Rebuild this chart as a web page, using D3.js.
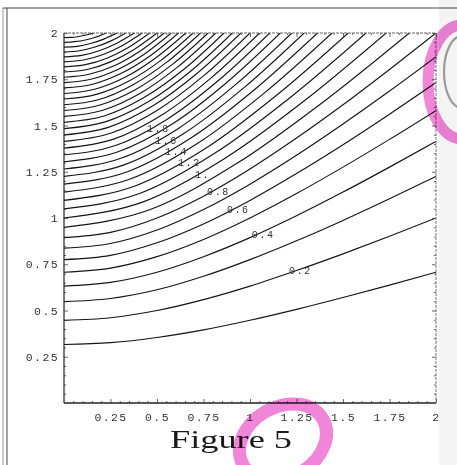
<!DOCTYPE html>
<html>
<head>
<meta charset="utf-8">
<script src="https://cdn.jsdelivr.net/npm/d3@7"></script>
<style>
  html, body { margin: 0; padding: 0; background: #fff; }
  svg { display: block; }
  .tick text { font-family: "Liberation Mono", "DejaVu Sans Mono", monospace; font-size: 11.5px; fill: #333; letter-spacing: 1.4px; }
  .clabel { font-family: "Liberation Mono", "DejaVu Sans Mono", monospace; font-size: 10px; fill: #333; letter-spacing: 1.6px; }
</style>
</head>
<body>
<div id="chart"></div>
<script>
// contour levels, 0.1 .. 3.9
const levels = [0.1, 0.2, 0.3, 0.4, 0.5, 0.6, 0.7, 0.8, 0.9, 1.0,
  1.1, 1.2, 1.3, 1.4, 1.5, 1.6, 1.7, 1.8, 1.9, 2.0,
  2.1, 2.2, 2.3, 2.4, 2.5, 2.6, 2.7, 2.8, 2.9, 3.0,
  3.1, 3.2, 3.3, 3.4, 3.5, 3.6, 3.7, 3.8, 3.9];

// points [x, y] (same order as levels)
const contourLines = [
  [[0, 0.316], [0.25, 0.326], [0.5, 0.354], [0.75, 0.395], [1, 0.447], [1.25, 0.506], [1.5, 0.570], [1.75, 0.637], [2, 0.707]],
  [[0, 0.447], [0.25, 0.461], [0.5, 0.500], [0.75, 0.559], [1, 0.632], [1.25, 0.716], [1.5, 0.806], [1.75, 0.901], [2, 1.000]],
  [[0, 0.548], [0.25, 0.565], [0.5, 0.612], [0.75, 0.685], [1, 0.775], [1.25, 0.877], [1.5, 0.987], [1.75, 1.104], [2, 1.225]],
  [[0, 0.632], [0.25, 0.652], [0.5, 0.707], [0.75, 0.791], [1, 0.894], [1.25, 1.012], [1.5, 1.140], [1.75, 1.275], [2, 1.414]],
  [[0, 0.707], [0.25, 0.729], [0.5, 0.791], [0.75, 0.884], [1, 1.000], [1.25, 1.132], [1.5, 1.275], [1.75, 1.425], [2, 1.581]],
  [[0, 0.775], [0.25, 0.798], [0.5, 0.866], [0.75, 0.968], [1, 1.095], [1.25, 1.240], [1.5, 1.396], [1.75, 1.561], [2, 1.732]],
  [[0, 0.837], [0.25, 0.862], [0.5, 0.935], [0.75, 1.046], [1, 1.183], [1.25, 1.339], [1.5, 1.508], [1.75, 1.686], [2, 1.871]],
  [[0, 0.894], [0.25, 0.922], [0.5, 1.000], [0.75, 1.118], [1, 1.265], [1.25, 1.432], [1.5, 1.612], [1.75, 1.803], [2, 2.000]],
  [[0, 0.949], [0.464, 1.046], [0.928, 1.294], [1.392, 1.626], [1.856, 2]],
  [[0, 1.000], [0.433, 1.090], [0.866, 1.323], [1.299, 1.639], [1.732, 2]],
  [[0, 1.049], [0.406, 1.132], [0.812, 1.351], [1.218, 1.653], [1.624, 2]],
  [[0, 1.095], [0.382, 1.173], [0.764, 1.378], [1.146, 1.666], [1.528, 2]],
  [[0, 1.140], [0.360, 1.212], [0.721, 1.405], [1.081, 1.679], [1.441, 2]],
  [[0, 1.183], [0.341, 1.250], [0.682, 1.432], [1.022, 1.692], [1.363, 2]],
  [[0, 1.225], [0.323, 1.287], [0.646, 1.458], [0.968, 1.705], [1.291, 2]],
  [[0, 1.265], [0.306, 1.323], [0.613, 1.483], [0.919, 1.718], [1.225, 2]],
  [[0, 1.304], [0.291, 1.358], [0.582, 1.508], [0.872, 1.730], [1.163, 2]],
  [[0, 1.342], [0.277, 1.392], [0.553, 1.533], [0.830, 1.743], [1.106, 2]],
  [[0, 1.378], [0.263, 1.425], [0.526, 1.557], [0.788, 1.755], [1.051, 2]],
  [[0, 1.414], [0.250, 1.458], [0.500, 1.581], [0.750, 1.768], [1.000, 2]],
  [[0, 1.449], [0.238, 1.490], [0.476, 1.605], [0.713, 1.780], [0.951, 2]],
  [[0, 1.483], [0.226, 1.521], [0.453, 1.628], [0.679, 1.792], [0.905, 2]],
  [[0, 1.517], [0.215, 1.551], [0.430, 1.651], [0.645, 1.804], [0.860, 2]],
  [[0, 1.549], [0.204, 1.581], [0.408, 1.673], [0.612, 1.817], [0.816, 2]],
  [[0, 1.581], [0.194, 1.611], [0.388, 1.696], [0.581, 1.829], [0.775, 2]],
  [[0, 1.612], [0.184, 1.639], [0.367, 1.718], [0.551, 1.841], [0.734, 2]],
  [[0, 1.643], [0.174, 1.668], [0.347, 1.739], [0.521, 1.852], [0.694, 2]],
  [[0, 1.673], [0.164, 1.696], [0.328, 1.761], [0.491, 1.864], [0.655, 2]],
  [[0, 1.703], [0.154, 1.723], [0.308, 1.782], [0.462, 1.876], [0.616, 2]],
  [[0, 1.732], [0.144, 1.750], [0.289, 1.803], [0.433, 1.887], [0.577, 2]],
  [[0, 1.761], [0.135, 1.777], [0.270, 1.823], [0.404, 1.899], [0.539, 2]],
  [[0, 1.789], [0.125, 1.803], [0.250, 1.844], [0.375, 1.910], [0.500, 2]],
  [[0, 1.817], [0.115, 1.829], [0.231, 1.864], [0.346, 1.922], [0.461, 2]],
  [[0, 1.844], [0.105, 1.854], [0.210, 1.884], [0.315, 1.933], [0.420, 2]],
  [[0, 1.871], [0.095, 1.879], [0.189, 1.904], [0.284, 1.945], [0.378, 2]],
  [[0, 1.897], [0.083, 1.904], [0.167, 1.924], [0.250, 1.956], [0.333, 2]],
  [[0, 1.924], [0.071, 1.928], [0.143, 1.943], [0.214, 1.967], [0.285, 2]],
  [[0, 1.949], [0.057, 1.953], [0.115, 1.962], [0.172, 1.978], [0.229, 2]],
  [[0, 1.975], [0.040, 1.976], [0.080, 1.981], [0.120, 1.989], [0.160, 2]]
];

// contour labels
const labelText = ["0.2", "0.4", "0.6", "0.8", "1.", "1.2", "1.4", "1.6", "1.8"];
const labelX = [1.21, 1.01, 0.876, 0.769, 0.704, 0.613, 0.543, 0.489, 0.446];
const labelY = [0.702, 0.899, 1.030, 1.128, 1.223, 1.285, 1.346, 1.408, 1.469];

// frame ticks
const tickValues = [0.25, 0.5, 0.75, 1, 1.25, 1.5, 1.75, 2];
const tickLabels = ["0.25", "0.5", "0.75", "1", "1.25", "1.5", "1.75", "2"];
const minorTicks = d3.range(1, 40).map(i => i * 0.05).filter(v => Math.abs(v / 0.25 - Math.round(v / 0.25)) > 1e-6);

const W = 457, H = 465;
const margin = { top: 33, right: 21, bottom: 62, left: 64 };
const width = W - margin.left - margin.right;
const height = H - margin.top - margin.bottom;

const svg = d3.select("#chart").append("svg")
  .attr("width", W)
  .attr("height", H);

// scanned page bits
svg.append("rect").attr("x", 439).attr("y", 0).attr("width", 18).attr("height", H).attr("fill", "#f3f3f3");
svg.append("line").attr("x1", 3).attr("x2", 3).attr("y1", 8).attr("y2", H).attr("stroke", "#999").attr("stroke-width", 1);
svg.append("line").attr("x1", 7).attr("x2", 7).attr("y1", 8).attr("y2", H).attr("stroke", "#666").attr("stroke-width", 1.2);
svg.append("line").attr("x1", 3).attr("x2", W).attr("y1", 8).attr("y2", 8).attr("stroke", "#444").attr("stroke-width", 1.2);

const g = svg.append("g").attr("transform", `translate(${margin.left},${margin.top})`);

const x = d3.scaleLinear().domain([0, 2]).range([0, width]);
const y = d3.scaleLinear().domain([0, 2]).range([height, 0]);

g.append("clipPath").attr("id", "plot-clip")
  .append("rect").attr("width", width).attr("height", height);

const line = d3.line()
  .x(d => x(d[0]))
  .y(d => y(d[1]))
  .curve(d3.curveMonotoneX);

g.append("g")
  .attr("clip-path", "url(#plot-clip)")
  .selectAll("path")
  .data(contourLines)
  .join("path")
  .attr("fill", "none")
  .attr("stroke", "#141414")
  .attr("stroke-width", 1.15)
  .attr("d", line);

// contour labels
g.append("g").selectAll("text")
  .data(labelText)
  .join("text")
  .attr("class", "clabel")
  .attr("x", (d, i) => x(labelX[i]))
  .attr("y", (d, i) => y(labelY[i]) + 1)
  .text(d => d);

// axes: ticks point inward
function styleAxis(sel) {
  sel.select(".domain").remove();
  sel.selectAll(".tick line").attr("stroke", "#444").attr("stroke-width", 0.8);
}

const fmt = v => tickLabels[tickValues.indexOf(v)];

g.append("g").attr("transform", `translate(0,${height})`)
  .call(d3.axisBottom(x).tickValues(tickValues).tickSize(-4).tickPadding(10).tickFormat(fmt))
  .call(styleAxis);
g.append("g").attr("transform", `translate(0,${height})`)
  .call(d3.axisBottom(x).tickValues(minorTicks).tickSize(-2).tickFormat(""))
  .call(styleAxis);
g.append("g")
  .call(d3.axisLeft(y).tickValues(tickValues).tickSize(-4).tickPadding(5).tickFormat(fmt))
  .call(styleAxis);
g.append("g")
  .call(d3.axisLeft(y).tickValues(minorTicks).tickSize(-2).tickFormat(""))
  .call(styleAxis);
g.append("g")
  .call(d3.axisTop(x).tickValues(tickValues).tickSize(-4).tickFormat(""))
  .call(styleAxis);
g.append("g")
  .call(d3.axisTop(x).tickValues(minorTicks).tickSize(-2).tickFormat(""))
  .call(styleAxis);
g.append("g").attr("transform", `translate(${width},0)`)
  .call(d3.axisRight(y).tickValues(tickValues).tickSize(-4).tickFormat(""))
  .call(styleAxis);
g.append("g").attr("transform", `translate(${width},0)`)
  .call(d3.axisRight(y).tickValues(minorTicks).tickSize(-2).tickFormat(""))
  .call(styleAxis);

// frame
g.append("line").attr("x1", 0).attr("x2", 0).attr("y1", 0).attr("y2", height).attr("stroke", "#222").attr("stroke-width", 1.2);
g.append("line").attr("x1", 0).attr("x2", width).attr("y1", height).attr("y2", height).attr("stroke", "#222").attr("stroke-width", 1.4);
g.append("line").attr("x1", 0).attr("x2", width).attr("y1", 0).attr("y2", 0).attr("stroke", "#666").attr("stroke-width", 1).attr("stroke-dasharray", "3,1");
g.append("line").attr("x1", width).attr("x2", width).attr("y1", 0).attr("y2", height).attr("stroke", "#777").attr("stroke-width", 1).attr("stroke-dasharray", "3,1");

// caption
svg.append("text")
  .attr("x", 170)
  .attr("y", 448)
  .attr("textLength", 122)
  .attr("lengthAdjust", "spacingAndGlyphs")
  .attr("font-family", "'Liberation Serif', 'DejaVu Serif', serif")
  .attr("font-size", 25)
  .attr("fill", "#1a1a1a")
  .text("Figure 5");

// highlighter marks on the scan
svg.append("ellipse")
  .attr("cx", 462).attr("cy", 72).attr("rx", 18).attr("ry", 36)
  .attr("fill", "none").attr("stroke", "#9a9a9a").attr("stroke-width", 2.2);
svg.append("ellipse")
  .attr("cx", 462).attr("cy", 82).attr("rx", 34).attr("ry", 57)
  .attr("fill", "none").attr("stroke", "#ee6fd4").attr("stroke-width", 11)
  .attr("opacity", 0.85).style("mix-blend-mode", "multiply");
svg.append("ellipse")
  .attr("cx", 283).attr("cy", 442).attr("rx", 46).attr("ry", 35)
  .attr("transform", "rotate(-30 283 442)")
  .attr("fill", "none").attr("stroke", "#ee6fd4").attr("stroke-width", 13)
  .attr("opacity", 0.85).style("mix-blend-mode", "multiply");
</script>
</body>
</html>
